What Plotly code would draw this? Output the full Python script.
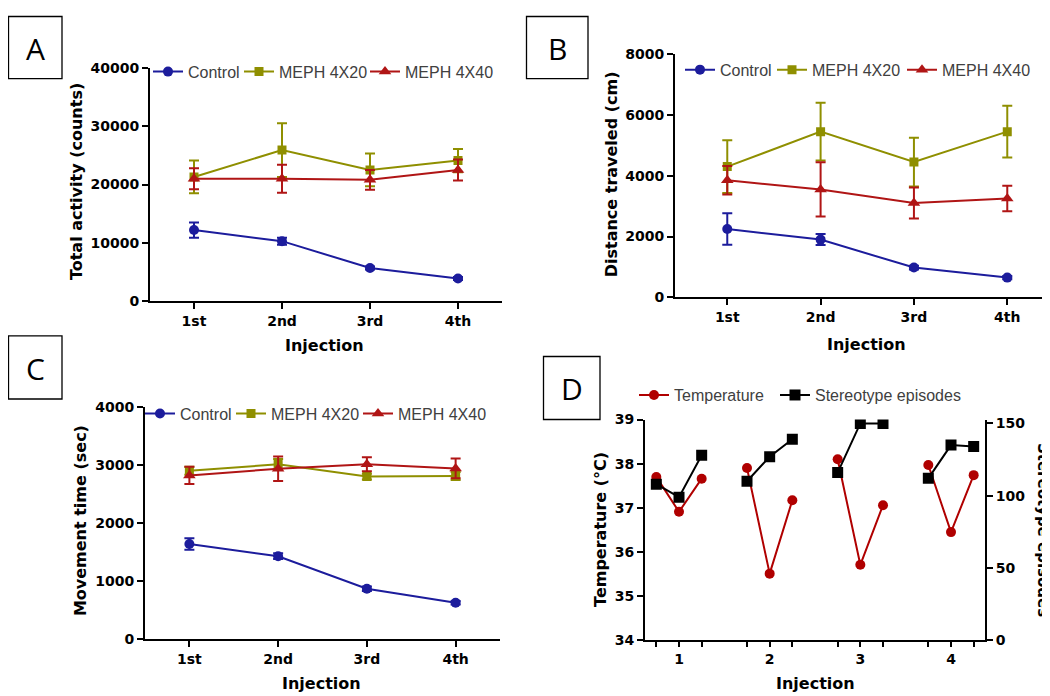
import plotly.graph_objects as go

# ---------------- data ----------------
injection_x = [1, 2, 3, 4]
injection_labels = ["1st", "2nd", "3rd", "4th"]
series_names = ["Control", "MEPH 4X20", "MEPH 4X40"]

# Panel A: Total activity (counts)
a_control = [12200, 10300, 5700, 3900]
a_control_err = [1300, 600, 250, 250]
a_meph20 = [21300, 25900, 22500, 24100]
a_meph20_err = [2800, 4600, 2800, 2000]
a_meph40 = [21000, 21000, 20800, 22500]
a_meph40_err = [1800, 2400, 1700, 1800]

# Panel B: Distance traveled (cm)
b_control = [2250, 1900, 980, 650]
b_control_err = [520, 180, 60, 50]
b_meph20 = [4300, 5450, 4450, 5450]
b_meph20_err = [870, 950, 800, 850]
b_meph40 = [3850, 3550, 3100, 3250]
b_meph40_err = [470, 890, 510, 420]

# Panel C: Movement time (sec)
c_control = [1640, 1430, 870, 630]
c_control_err = [100, 50, 40, 30]
c_meph20 = [2900, 3010, 2800, 2810]
c_meph20_err = [70, 90, 50, 70]
c_meph40 = [2820, 2935, 3010, 2940]
c_meph40_err = [150, 210, 120, 170]

# Panel D: temperature and stereotype episodes, three time points per injection
d_injections = [1, 2, 3, 4]
d_timepoint_offsets = [-0.25, 0.0, 0.25]
d_temperature = [[37.70, 36.91, 37.66],
                 [37.90, 35.51, 37.17],
                 [38.10, 35.71, 37.06],
                 [37.97, 36.45, 37.74]]
d_stereotype = [[108, 99, 128],
                [110, 127, 139],
                [116, 150, 150],
                [112, 135, 134]]

# ---------------- style ----------------
W, H = 1050, 696
BLUE = "#1c1c9c"
OLIVE = "#8f8f00"
RED = "#b01515"
DRED = "#b00000"
FONT = "Liberation Sans"
BOLD = "DejaVu Sans"

def fx(px):
    return px / W

def fy(py):
    return 1 - py / H

def axis(**kw):
    d = dict(showline=True, linecolor="black", linewidth=2, ticks="outside",
             ticklen=6, tickwidth=2, tickcolor="black", showgrid=False,
             zeroline=False, tickformat="d",
             tickfont=dict(family=BOLD, size=14, color="black", weight="bold"))
    d.update(kw)
    return d

fig = go.Figure()
legend_layout = {}
legend_count = [0]

def new_legend(text_x, text_y, size=16):
    legend_count[0] += 1
    n = legend_count[0]
    key = "legend" if n == 1 else f"legend{n}"
    legend_layout[key] = dict(orientation="h", bgcolor="rgba(0,0,0,0)", borderwidth=0,
                              font=dict(family=FONT, size=size, color="#404040"),
                              xanchor="left", yanchor="middle", itemwidth=30,
                              x=fx(text_x - 46), y=fy(text_y))
    return key

def add_panel(xa, ya, data, text_xs, text_y):
    colors = [BLUE, OLIVE, RED]
    symbols = ["circle", "square", "triangle-up"]
    sizes = [10, 9, 11]
    for (vals, errs), name, c, s, sz, tx in zip(data, series_names, colors, symbols, sizes, text_xs):
        fig.add_trace(go.Scatter(
            x=injection_x, y=vals, name=name, mode="lines+markers",
            xaxis=xa, yaxis=ya, legend=new_legend(tx, text_y),
            line=dict(color=c, width=2),
            marker=dict(color=c, symbol=s, size=sz),
            error_y=dict(type="data", array=errs, visible=True, color=c,
                         thickness=2, width=5),
        ))

add_panel("x", "y", [(a_control, a_control_err), (a_meph20, a_meph20_err), (a_meph40, a_meph40_err)],
          [186, 277, 403], 57)
add_panel("x2", "y2", [(b_control, b_control_err), (b_meph20, b_meph20_err), (b_meph40, b_meph40_err)],
          [718, 810, 940], 55)
add_panel("x3", "y3", [(c_control, c_control_err), (c_meph20, c_meph20_err), (c_meph40, c_meph40_err)],
          [178, 269, 396], 407)

# Panel D traces (groups separated by gaps)
dx, dt, ds = [], [], []
for inj, temps, sts in zip(d_injections, d_temperature, d_stereotype):
    for off, t, s in zip(d_timepoint_offsets, temps, sts):
        dx.append(inj + off)
        dt.append(t)
        ds.append(s)
    dx.append(None)
    dt.append(None)
    ds.append(None)

fig.add_trace(go.Scatter(x=dx, y=dt, name="Temperature", mode="lines+markers",
                         xaxis="x4", yaxis="y4", legend=new_legend(672, 388, 16),
                         line=dict(color=DRED, width=2),
                         marker=dict(color=DRED, symbol="circle", size=10),
                         connectgaps=False))
fig.add_trace(go.Scatter(x=dx, y=ds, name="Stereotype episodes", mode="lines+markers",
                         xaxis="x4", yaxis="y5", legend=new_legend(813, 388, 16),
                         line=dict(color="black", width=2),
                         marker=dict(color="black", symbol="square", size=11),
                         connectgaps=False))

d_tickvals = [i + o for i in d_injections for o in d_timepoint_offsets]
d_ticktext = [str(i) if o == 0 else "" for i in d_injections for o in d_timepoint_offsets]

fig.update_layout(
    width=W, height=H, autosize=False,
    margin=dict(l=0, r=0, t=0, b=0),
    paper_bgcolor="white", plot_bgcolor="white",
    font=dict(family=FONT, color="black"),
    showlegend=True,
    xaxis=axis(domain=[fx(142), fx(494)], range=[0.5, 4.5], tickvals=injection_x,
               ticktext=injection_labels, anchor="y"),
    yaxis=axis(domain=[fy(292), fy(53)], range=[0, 40000], tickvals=[0, 10000, 20000, 30000, 40000],
               anchor="x"),
    xaxis2=axis(domain=[fx(667), fx(1045)], range=[0.44, 4.49], tickvals=injection_x,
                ticktext=injection_labels, anchor="y2"),
    yaxis2=axis(domain=[fy(288), fy(39)], range=[0, 8000], tickvals=[0, 2000, 4000, 6000, 8000],
                anchor="x2"),
    xaxis3=axis(domain=[fx(137), fx(492)], range=[0.5, 4.5], tickvals=injection_x,
                ticktext=injection_labels, anchor="y3"),
    yaxis3=axis(domain=[fy(638), fy(400)], range=[0, 4000], tickvals=[0, 1000, 2000, 3000, 4000],
                anchor="x3"),
    xaxis4=axis(domain=[fx(637), fx(977)], range=[0.625, 4.375], tickvals=d_tickvals,
                ticktext=d_ticktext, anchor="y4", ticklen=5),
    yaxis4=axis(domain=[fy(639), fy(413)], range=[34, 39], tickvals=[34, 35, 36, 37, 38, 39],
                anchor="x4"),
    yaxis5=axis(domain=[fy(639), fy(413)], range=[0, 152.7], tickvals=[0, 50, 100, 150],
                anchor="x4", overlaying="y4", side="right"),
    **legend_layout,
)

# axis titles
titles = [
    ("Total activity (counts)", 68, 170, -90, 16),
    ("Distance traveled (cm)", 603, 162, -90, 16),
    ("Movement time (sec)", 72, 517, -90, 16),
    ("Temperature (°C)", 593, 526, -90, 16),
    ("Stereotype episodes", 1035, 526, 90, 15),
    ("Injection", 316, 337, 0, 16),
    ("Injection", 858, 336, 0, 16),
    ("Injection", 313, 683, 0, 16),
    ("Injection", 807, 683, 0, 16),
]
for text, px, py, ang, sz in titles:
    fig.add_annotation(text=text, x=fx(px), y=fy(py), xref="paper", yref="paper",
                       showarrow=False, textangle=ang,
                       font=dict(family=BOLD, size=sz, color="black", weight="bold"),
                       xanchor="center", yanchor="middle")

# panel letter boxes
boxes = [("A", 0, 0, 54, 64), ("B", 518, 0, 580, 64), ("C", 0, 327, 54, 392), ("D", 535, 348, 592, 413)]
for letter, x0, y0, x1, y1 in boxes:
    fig.add_shape(type="rect", xref="paper", yref="paper",
                  x0=fx(x0 + 0.5), x1=fx(x1), y0=fy(y1), y1=fy(y0 + 0.5),
                  line=dict(color="black", width=1.3), fillcolor="white")
    fig.add_annotation(text=letter, x=fx((x0 + x1) / 2), y=fy((y0 + y1) / 2 + 1),
                       xref="paper", yref="paper", showarrow=False,
                       font=dict(family="Open Sans", size=30, color="black"),
                       xanchor="center", yanchor="middle")

fig.write_html("out.html")
